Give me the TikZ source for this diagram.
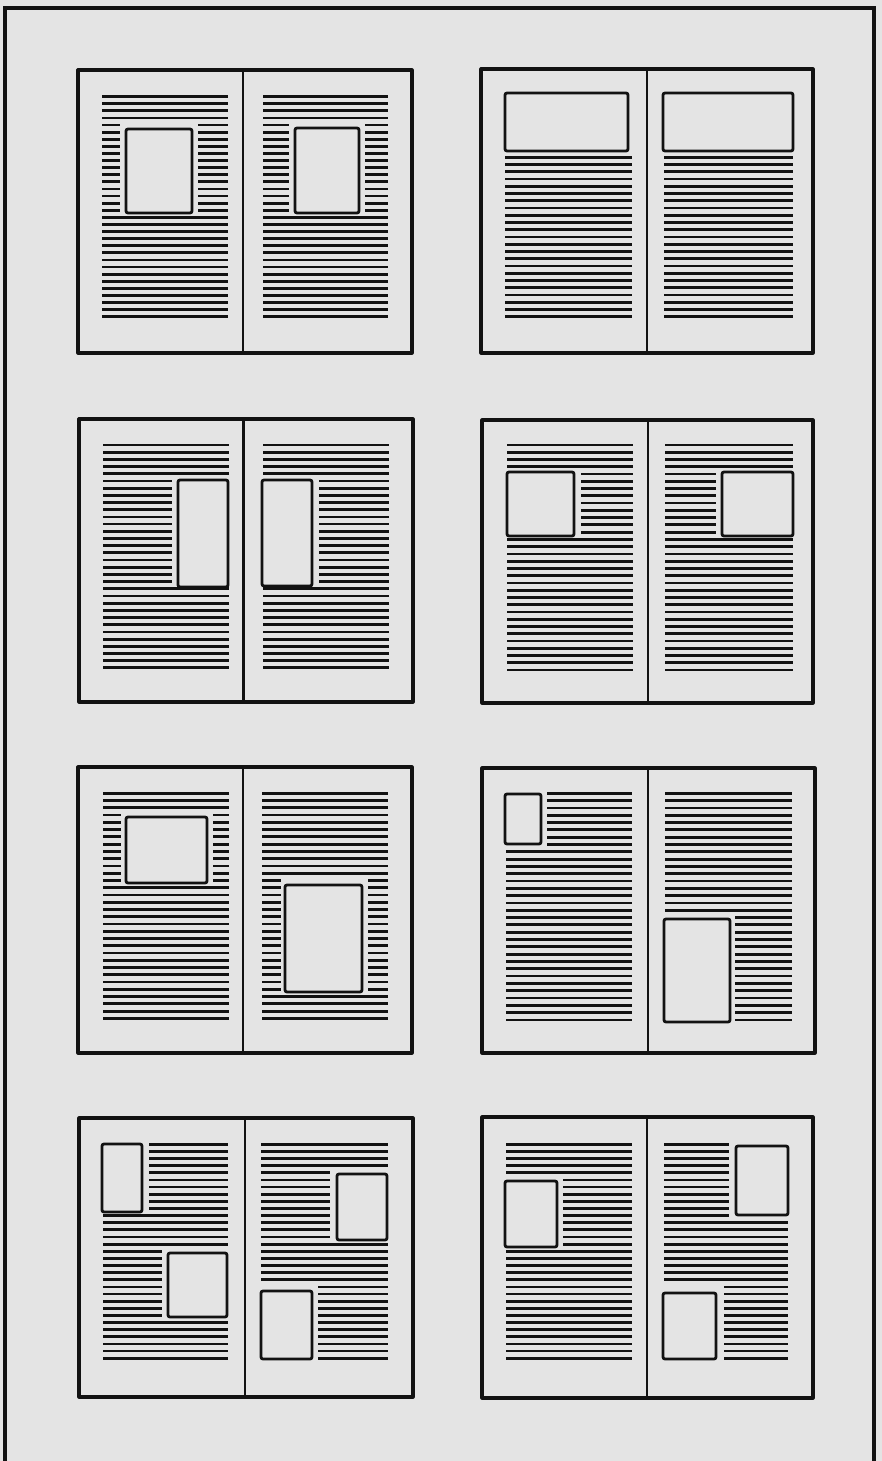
\documentclass[tikz,border=0pt]{standalone}
\usepackage{tikz}
\definecolor{paper}{RGB}{228,228,228}
\definecolor{ink}{RGB}{18,18,18}

% one spread: outer edge and gutter
\newcommand{\spread}[5]{%
  \draw[pageframe] (#1,#2) rectangle (#3,#4);
  \draw[gutter] (#5,#2) -- (#5,#4);}
% a run of text lines, numbered from \ytop in steps of \lsp
\newcommand{\txtlines}[4]{%
  \foreach \k in {#3,...,#4}
    \draw[txtline] (#1,{\ytop+\k*\lsp}) -- (#2,{\ytop+\k*\lsp});}
% an illustration box
\newcommand{\photo}[4]{\draw[photobox] (#1,#2) rectangle (#3,#4);}

\begin{document}
\begin{tikzpicture}[
  x=0.5pt, y=-0.5pt,
  pageframe/.style={draw=ink, line width=1.6pt, line join=round},
  gutter/.style={draw=ink, line width=1.4pt},
  txtline/.style={draw=ink, line width=1.4pt},
  photobox/.style={draw=ink, line width=1.4pt, rounded corners=1pt},
  frameline/.style={draw=ink, line width=1.6pt},
]
\fill[paper] (0,0) rectangle (882,1461);
\useasboundingbox (0,0) rectangle (882,1461);

%% outer frame (runs off the bottom)
\draw[frameline] (5,1461) -- (5,8) -- (874,8) -- (874,1461);

%% the eight spreads
\spread{78}{70}{412}{353}{243}
\spread{481}{69}{813}{353}{647}
\spread{79}{419}{413}{702}{243.5}
\spread{482}{420}{813}{703}{648}
\spread{78}{767}{412}{1053}{243}
\spread{482}{768}{815}{1053}{648}
\spread{79}{1118}{413}{1397}{245}
\spread{482}{1117}{813}{1398}{647}

%% row 1
\def\ytop{96.7}\def\lsp{7.097}
\txtlines{102}{228}{0}{3}
\txtlines{102}{120}{4}{16}
\txtlines{198}{228}{4}{16}
\txtlines{102}{228}{17}{31}
\photo{126}{129}{192}{213}
\txtlines{263}{388}{0}{3}
\txtlines{263}{289}{4}{16}
\txtlines{365}{388}{4}{16}
\txtlines{263}{388}{17}{31}
\photo{295}{128}{359}{213}

\def\ytop{157.3}\def\lsp{7.245}
\txtlines{505}{632}{0}{22}
\photo{505}{93}{628}{151}
\txtlines{664}{793}{0}{22}
\photo{663}{93}{793}{151}

%% row 2
\def\ytop{445}\def\lsp{7.19}
\txtlines{103}{229}{0}{4}
\txtlines{103}{172}{5}{19}
\txtlines{103}{229}{20}{31}
\photo{178}{480}{228}{587}
\txtlines{263}{389}{0}{4}
\txtlines{319}{389}{5}{19}
\txtlines{263}{389}{20}{31}
\photo{262}{480}{312}{586}

\def\ytop{445}\def\lsp{7.26}
\txtlines{507}{633}{0}{3}
\txtlines{581}{633}{4}{12}
\txtlines{507}{633}{13}{31}
\photo{507}{472}{574}{536}
\txtlines{665}{793}{0}{3}
\txtlines{665}{716}{4}{12}
\txtlines{665}{793}{13}{31}
\photo{722}{472}{793}{536}

%% row 3
\def\ytop{793.3}\def\lsp{7.26}
\txtlines{103}{229}{0}{2}
\txtlines{103}{121}{3}{12}
\txtlines{213}{229}{3}{12}
\txtlines{103}{229}{13}{31}
\photo{126}{817}{207}{883}
\txtlines{262}{388}{0}{11}
\txtlines{262}{281}{12}{27}
\txtlines{368}{388}{12}{27}
\txtlines{262}{388}{28}{31}
\photo{285}{885}{362}{992}

\def\ytop{793.3}\def\lsp{7.31}
\txtlines{547}{632}{0}{7}
\txtlines{506}{632}{8}{31}
\photo{505}{794}{541}{844}
\txtlines{665}{792}{0}{16}
\txtlines{735}{792}{17}{31}
\photo{664}{919}{730}{1022}

%% row 4
\def\ytop{1144.3}\def\lsp{7.13}
\txtlines{149}{228}{0}{9}
\txtlines{103}{228}{10}{14}
\txtlines{103}{162}{15}{24}
\txtlines{103}{228}{25}{30}
\photo{102}{1144}{142}{1212}
\photo{168}{1253}{227}{1317}
\txtlines{261}{388}{0}{3}
\txtlines{261}{330}{4}{13}
\txtlines{261}{388}{14}{19}
\txtlines{318}{388}{20}{30}
\photo{337}{1174}{387}{1240}
\photo{261}{1291}{312}{1359}

\txtlines{506}{632}{0}{4}
\txtlines{563}{632}{5}{14}
\txtlines{506}{632}{15}{30}
\photo{505}{1181}{557}{1247}
\txtlines{664}{729}{0}{10}
\txtlines{664}{788}{11}{19}
\txtlines{724}{788}{20}{30}
\photo{736}{1146}{788}{1215}
\photo{663}{1293}{716}{1359}

\end{tikzpicture}
\end{document}
